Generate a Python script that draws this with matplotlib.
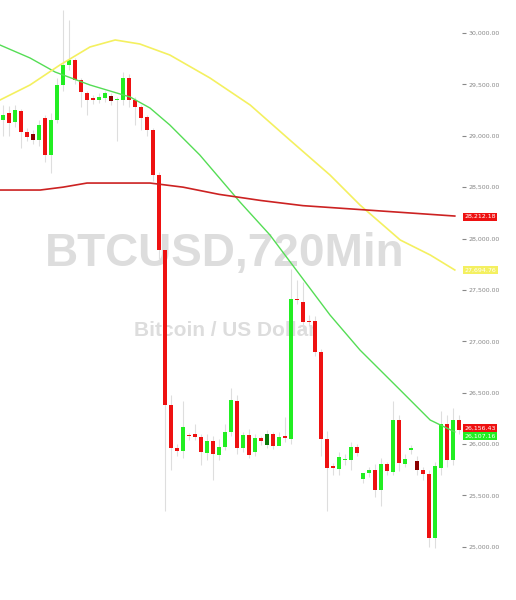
import matplotlib
matplotlib.use("Agg")
from matplotlib import pyplot as plt
from matplotlib.ticker import FuncFormatter
import numpy as np

# 12h candles (open, close, high, low)
opens = [29153, 29222, 29134, 29241, 29037, 29017, 28959, 29173, 28813, 29153, 29494, 29689, 29737, 29543, 29416, 29367,
         29348, 29367, 29387, 29348, 29348, 29562, 29348, 29280, 29183, 29056, 28618, 27889, 26380, 25962, 25933, 26088,
         26098, 26069, 25913, 26030, 25894, 25972, 26118, 26419, 25962, 26088, 25923, 26059, 25991, 26098, 25981, 26079,
         26049, 27412, 27383, 27198, 27198, 26896, 26049, 25777, 25758, 25845, 25845, 25972, 25660, 25719, 25748, 25553,
         25806, 25728, 26234, 25806, 25943, 25835, 25748, 25709, 25086, 25767, 26195, 25845, 26234]
closes = [29202, 29124, 29251, 29037, 28988, 28959, 29105, 28813, 29153, 29494, 29689, 29737, 29543, 29426, 29348, 29348,
          29377, 29416, 29338, 29358, 29562, 29348, 29280, 29173, 29056, 28618, 27889, 26380, 25962, 25933, 26166, 26079,
          26069, 25923, 26030, 25904, 25972, 26118, 26429, 25962, 26088, 25894, 26059, 26030, 26098, 25981, 26069, 26059,
          27412, 27402, 27188, 27190, 26896, 26049, 25767, 25770, 25874, 25850, 25972, 25913, 25719, 25748, 25553, 25806,
          25738, 26234, 25816, 25855, 25962, 25748, 25709, 25086, 25787, 26195, 25845, 26234, 26137]
highs = [29300, 29290, 29300, 29260, 29080, 29060, 29150, 29200, 29220, 29560, 30224, 30130, 29760, 29560, 29440, 29400,
         29420, 29440, 29420, 29380, 29620, 29600, 29380, 29300, 29200, 29080, 28650, 27950, 26480, 26000, 26420, 26110,
         26200, 26100, 26100, 26080, 26050, 26200, 26550, 26480, 26120, 26150, 26100, 26080, 26140, 26120, 26120, 26260,
         27700, 27600, 27580, 27260, 27250, 26930, 26130, 25820, 25920, 25900, 26020, 26000, 25700, 25780, 25810, 25860,
         25830, 26420, 26280, 25900, 25990, 25880, 25780, 25750, 25830, 26320, 26280, 26350, 26280]
lows = [29000, 29000, 29090, 28880, 28950, 28920, 28900, 28740, 28640, 29120, 29440, 29640, 29500, 29280, 29200, 29310,
        29320, 29330, 29300, 28950, 29300, 29280, 29100, 29060, 29000, 28560, 27800, 25350, 25750, 25880, 25860, 26040,
        26040, 25800, 25850, 25650, 25850, 25940, 26080, 25900, 25920, 25860, 25880, 25990, 25960, 25950, 25990, 26020,
        26000, 27360, 27100, 27150, 26860, 25880, 25350, 25700, 25700, 25800, 25750, 25880, 25620, 25680, 25490, 25400,
        25700, 25700, 25740, 25780, 25900, 25700, 25650, 25000, 24990, 25700, 25780, 25800, 26100]
dark = {5, 18, 44, 69}

# moving averages (candle index, price)
ma_fast_x = [-0.5, 4.5, 8.7, 14.5, 21.2, 24.5, 27.8, 32.8, 39.5, 44.5, 49.5, 54.5, 59.5, 66.2, 71.2, 75.3]
ma_fast_y = [29883, 29757, 29620, 29494, 29377, 29270, 29105, 28813, 28355, 28034, 27645, 27256, 26915, 26526, 26234, 26118]
ma_mid_x = [-0.5, 4.5, 9.5, 14.5, 18.7, 22.8, 27.8, 34.5, 41.2, 47.8, 54.5, 59.5, 66.2, 71.2, 75.3]
ma_mid_y = [29348, 29494, 29689, 29864, 29932, 29893, 29786, 29562, 29299, 28959, 28618, 28326, 27986, 27840, 27694]
ma_slow_x = [-0.5, 6.2, 10, 14, 24.5, 30, 36, 43, 50, 60, 75.3]
ma_slow_y = [28472, 28472, 28500, 28540, 28540, 28500, 28430, 28370, 28320, 28280, 28219]

fig = plt.figure(figsize=(5.16, 6.0), dpi=100)
ax = fig.add_axes([0, 0, 462 / 516, 1])

for i in range(len(opens)):
    o, c, h, l = opens[i], closes[i], highs[i], lows[i]
    ax.vlines(i, l, h, color='#dedede', lw=0.8, zorder=1)
    up = c >= o
    if i in dark:
        col = '#0a7a0a' if up else '#8b0000'
    else:
        col = '#22ee22' if up else '#ee1111'
    ax.bar(i, max(abs(c - o), 12), bottom=min(o, c), width=0.6, color=col, zorder=2)

ax.plot(ma_fast_x, ma_fast_y, color='#55dd55', lw=1, zorder=3)
ax.plot(ma_mid_x, ma_mid_y, color='#f4f060', lw=1.2, zorder=3)
ax.plot(ma_slow_x, ma_slow_y, color='#cc2222', lw=1.2, zorder=3)

ax.text(37, 27850, "BTCUSD,720Min", fontsize=33, fontweight='bold', color='#dddddd',
        ha='center', va='center', family='Liberation Sans', zorder=0)
ax.text(37, 27110, "Bitcoin / US Dollar", fontsize=15, fontweight='bold', color='#dddddd',
        ha='center', va='center', family='Liberation Sans', zorder=0)

ax.set_xlim(-0.5, 76.5)
ax.set_ylim(24483, 30321)
ax.yaxis.tick_right()
ax.set_yticks(np.arange(25000, 30001, 500))
ax.yaxis.set_major_formatter(FuncFormatter(lambda v, p: f"{v:,.2f}"))
ax.tick_params(axis='y', labelsize=4.5, labelcolor='#888888', color='#888888', length=3, pad=2)
ax.set_xticks([])
for s in ax.spines.values():
    s.set_visible(False)

# last value tags
tags = [(28212, '28,212.18', '#ee1111', 'white'), (27694, '27,694.76', '#f4f060', 'white'),
        (26156, '26,156.43', '#ee1111', 'white'), (26080, '26,107.16', '#22ee22', 'white')]
for val, txt, bg, fg in tags:
    ax.annotate(txt, xy=(1.005, val), xycoords=('axes fraction', 'data'), fontsize=4.5, color=fg,
                va='center', ha='left', bbox=dict(boxstyle='square,pad=0.25', fc=bg, ec='none'),
                annotation_clip=False, zorder=5)

fig.savefig("out.png", dpi=100)
